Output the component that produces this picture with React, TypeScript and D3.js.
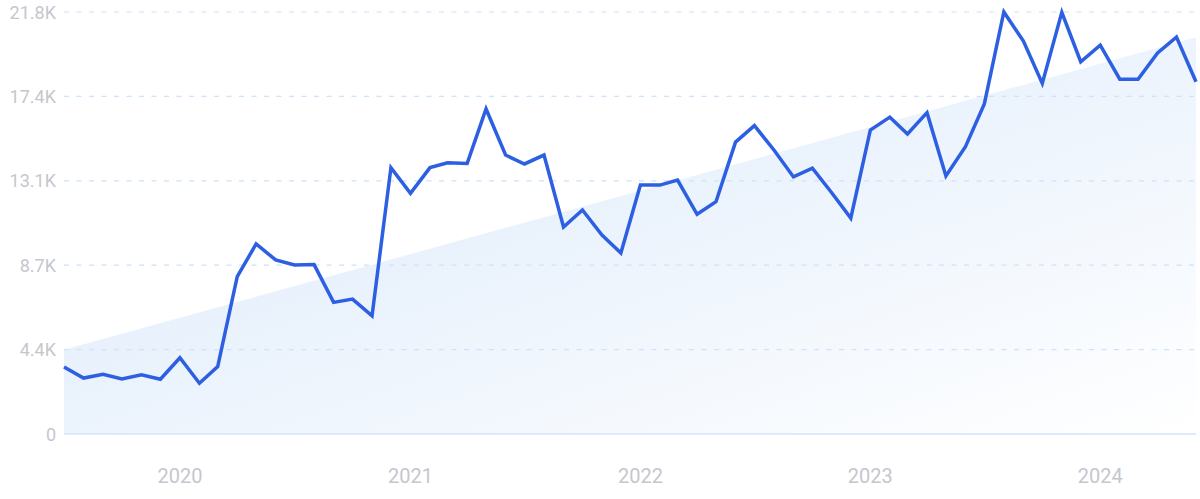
import * as React from 'react';
import * as d3 from 'd3';

const months = [
  '2019-07', '2019-08', '2019-09', '2019-10', '2019-11', '2019-12',
  '2020-01', '2020-02', '2020-03', '2020-04', '2020-05', '2020-06',
  '2020-07', '2020-08', '2020-09', '2020-10', '2020-11', '2020-12',
  '2021-01', '2021-02', '2021-03', '2021-04', '2021-05', '2021-06',
  '2021-07', '2021-08', '2021-09', '2021-10', '2021-11', '2021-12',
  '2022-01', '2022-02', '2022-03', '2022-04', '2022-05', '2022-06',
  '2022-07', '2022-08', '2022-09', '2022-10', '2022-11', '2022-12',
  '2023-01', '2023-02', '2023-03', '2023-04', '2023-05', '2023-06',
  '2023-07', '2023-08', '2023-09', '2023-10', '2023-11', '2023-12',
  '2024-01', '2024-02', '2024-03', '2024-04', '2024-05', '2024-06',
];

// searches, in thousands
const searches = [
  3.46, 2.89, 3.09, 2.84, 3.06, 2.83,
  3.94, 2.62, 3.48, 8.13, 9.82, 8.99,
  8.73, 8.75, 6.8, 6.97, 6.1, 13.76,
  12.43, 13.76, 14.01, 13.98, 16.79, 14.41,
  13.95, 14.41, 10.69, 11.57, 10.28, 9.35,
  12.86, 12.86, 13.12, 11.35, 12.0, 15.08,
  15.93, 14.67, 13.28, 13.73, 12.45, 11.15,
  15.7, 16.37, 15.5, 16.6, 13.33, 14.84,
  17.05, 21.8, 20.3, 18.11, 21.78, 19.23,
  20.09, 18.33, 18.33, 19.69, 20.5, 18.2,
];

const trendStart = 4.35;
const trendEnd = 20.5;

const yTicks = [0, 4.36, 8.72, 13.08, 17.44, 21.8];
const yTickLabels = ['0', '4.4K', '8.7K', '13.1K', '17.4K', '21.8K'];
const yearLabels = ['2020', '2021', '2022', '2023', '2024'];

const W = 1200;
const H = 499;
const left = 64;
const right = 1196;
const top = 12;
const bottom = 434;

const parse = d3.timeParse('%Y-%m');

export default function App() {
  const dates = months.map(m => parse(m) as Date);
  const points = dates.map((d, i) => ({ d, v: searches[i] }));

  const x = d3.scaleTime()
    .domain([dates[0], dates[dates.length - 1]])
    .range([left, right]);
  const y = d3.scaleLinear().domain([0, 21.8]).range([bottom, top]);

  const line = d3.line<{ d: Date; v: number }>()
    .curve(d3.curveLinear)
    .x(p => x(p.d))
    .y(p => y(p.v));

  const trend = [
    { d: dates[0], v: trendStart },
    { d: dates[dates.length - 1], v: trendEnd },
  ];
  const area = d3.area<{ d: Date; v: number }>()
    .x(p => x(p.d))
    .y0(y(0))
    .y1(p => y(p.v));

  const font = 'Roboto, "Noto Sans", sans-serif';

  return (
    <div style={{ position: 'fixed', left: 0, top: 0, width: W, height: H, background: '#fff' }}>
      <svg width={W} height={H}>
        <defs>
          <linearGradient id="trendFill" x1="0" y1="0" x2="1" y2="1">
            <stop offset="0%" stopColor="#d9e8fa" />
            <stop offset="100%" stopColor="#ffffff" />
          </linearGradient>
        </defs>

        <path d={area(trend) || undefined} fill="url(#trendFill)" />

        {yTicks.map((t, i) => (
          <g key={i}>
            {i > 0 && (
              <line x1={left} x2={right} y1={y(t)} y2={y(t)}
                stroke="#cde2fb" strokeWidth={1.2} strokeDasharray="5,7.5" />
            )}
            <text x={56} y={y(t)} textAnchor="end" dominantBaseline="central"
              fill="#c6c6ce" fontSize={18} fontFamily={font}>
              {yTickLabels[i]}
            </text>
          </g>
        ))}

        <line x1={left} x2={right} y1={bottom} y2={bottom} stroke="#d3e4fa" strokeWidth={1.5} />

        {yearLabels.map(yr => (
          <text key={yr} x={x(parse(yr + '-01') as Date)} y={483} textAnchor="middle"
            fill="#c6c6ce" fontSize={20} fontFamily={font}>
            {yr}
          </text>
        ))}

        <path d={line(points) || undefined} fill="none" stroke="#2d5fe3" strokeWidth={3.5}
          strokeLinejoin="miter" strokeLinecap="butt" />
      </svg>
    </div>
  );
}
